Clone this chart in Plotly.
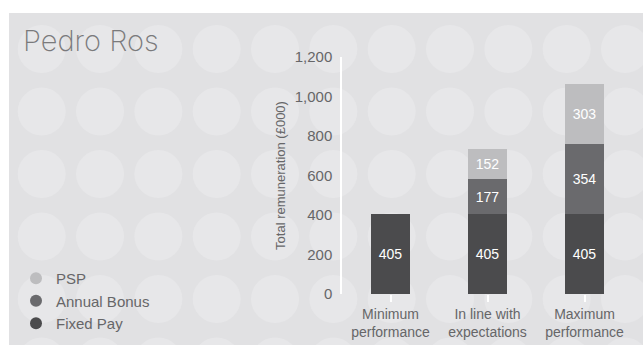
import plotly.graph_objects as go

categories = ["Minimum<br>performance", "In line with<br>expectations", "Maximum<br>performance"]
fixed_pay = [405, 405, 405]
annual_bonus = [0, 177, 354]
psp = [0, 152, 303]
series_names = ["Fixed Pay", "Annual Bonus", "PSP"]
colors = {"Fixed Pay": "#4b4b4d", "Annual Bonus": "#6a6a6d", "PSP": "#bdbdbf"}
y_ticks = [0, 200, 400, 600, 800, 1000, 1200]

W, H = 643, 345
L, R, T, B = 342, 10, 57, 51
PW, PH = W - L - R, H - T - B

def px(x):
    return (x - L) / PW

def py(y):
    return (H - B - y) / PH

FONT = "Liberation Sans, Arial, sans-serif"
TXT = "#666668"
BG = "#e1e1e3"

fig = go.Figure()
series = {"Fixed Pay": fixed_pay, "Annual Bonus": annual_bonus, "PSP": psp}
for name in series_names:
    vals = series[name]
    fig.add_trace(go.Bar(
        x=categories, y=[v if v else None for v in vals], name=name,
        marker=dict(color=colors[name], line=dict(width=0)),
        text=[str(v) if v else "" for v in vals],
        textposition="inside", insidetextanchor="middle", textangle=0,
        textfont=dict(color="white", size=14, family=FONT),
        width=0.4, showlegend=False, hoverinfo="skip",
    ))

for name in ["PSP", "Annual Bonus", "Fixed Pay"]:
    fig.add_trace(go.Scatter(
        x=[None], y=[None], mode="markers", name=name,
        marker=dict(color=colors[name], size=11, symbol="circle"),
        showlegend=True,
    ))

shapes = []
for j in range(6):
    for k in range(11):
        cx = 41.7 + 58.33 * k
        cy = 49 + 62.5 * j
        shapes.append(dict(type="circle", xref="paper", yref="paper", layer="below",
                           x0=px(cx - 24), x1=px(cx + 24), y0=py(cy + 24), y1=py(cy - 24),
                           fillcolor="#e7e7e9", line=dict(width=0)))
# white frame strips (top and left) outside the grey panel
shapes.append(dict(type="rect", xref="paper", yref="paper", layer="below",
                   x0=px(-5), x1=px(W + 5), y0=py(13), y1=py(-5),
                   fillcolor="white", line=dict(width=0)))
shapes.append(dict(type="rect", xref="paper", yref="paper", layer="below",
                   x0=px(-5), x1=px(9), y0=py(H + 5), y1=py(-5),
                   fillcolor="white", line=dict(width=0)))

fig.update_layout(
    width=W, height=H,
    margin=dict(l=L, r=R, t=T, b=B, autoexpand=False),
    paper_bgcolor=BG, plot_bgcolor="rgba(0,0,0,0)",
    barmode="stack", bargap=0.6,
    shapes=shapes,
    font=dict(family=FONT, color=TXT, size=14),
    legend=dict(x=px(16), y=py(262), xanchor="left", yanchor="top",
                traceorder="normal", bgcolor="rgba(0,0,0,0)",
                font=dict(size=15, color=TXT, family=FONT),
                itemsizing="constant", tracegroupgap=0),
    annotations=[dict(text="Pedro Ros", xref="paper", yref="paper",
                      x=px(21), y=py(40), xanchor="left", yanchor="middle",
                      showarrow=False,
                      font=dict(family="Inter, sans-serif", size=29,
                                color="#7a7a7c", weight=200))],
    xaxis=dict(showline=False, showgrid=False, zeroline=False,
               ticks="outside", tickcolor="white", ticklen=7, tickwidth=1.5,
               tickfont=dict(size=14, color=TXT), fixedrange=True),
    yaxis=dict(range=[0, 1200], tickvals=y_ticks, tickformat=",",
               showline=True, linecolor="white", linewidth=1.5,
               showgrid=False, zeroline=False, ticks="",
               ticklabelstandoff=5,
               tickfont=dict(size=15, color=TXT),
               title=dict(text="Total remuneration (£000)", standoff=6,
                          font=dict(size=13, color=TXT))),
)

fig.write_html("out.html")
